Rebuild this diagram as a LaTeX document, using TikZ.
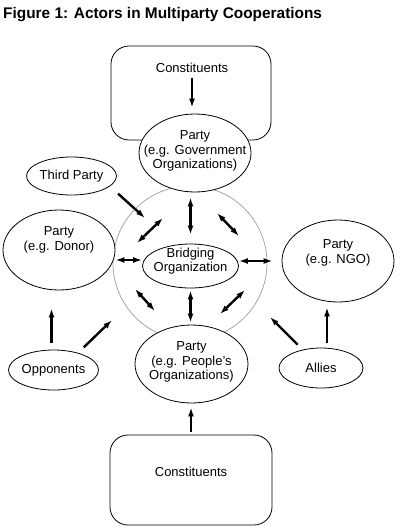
\documentclass[tikz,border=0pt]{standalone}
\usepackage{fontspec}
\setmainfont{Liberation Sans}
\usetikzlibrary{shapes.geometric,arrows.meta}
\begin{document}
\begin{tikzpicture}[x=1pt,y=-1pt,line join=round,>={Latex[length=9pt,width=6pt]},
  actor/.style={draw,ellipse,fill=white,line width=0.8pt,inner sep=0pt,
    font=\fontsize{13}{14.5}\selectfont},
  every label/.style={align=center,font=\fontsize{13}{14.5}\selectfont,inner sep=0pt},
  box/.style={draw,rounded corners=18pt,line width=0.8pt,inner sep=0pt},
  txt/.style={font=\fontsize{13}{14.5}\selectfont},
  flow/.style={line width=2.4pt}]
\useasboundingbox (0,0) rectangle (420,528);
\node[anchor=base west,inner sep=0pt,font=\bfseries\fontsize{15.4}{18}\selectfont] (title) at (3,18)
  {Figure 1: Actors in Multiparty Cooperations};

\node[box,minimum width=160pt,minimum height=94pt] (topbox) at (191,93) {};
\node[txt] (topcons) at (192,68) {Constituents};
\node[box,minimum width=162pt,minimum height=90pt] (botbox) at (191,480) {};
\node[txt] (botcons) at (191,472) {Constituents};

\node[draw=gray!70,line width=0.8pt,circle,minimum size=154pt] (ring) at (190,263) {};

\node[actor,minimum width=112pt,minimum height=78pt,
  label={[yshift=2pt]center:Party\\(e.g. Government\\Organizations)}] (gov) at (195,153) {};
\node[actor,minimum width=96pt,minimum height=44pt,
  label={[yshift=5pt]center:Bridging\\Organization}] (bridge) at (190.5,266) {};
\node[actor,minimum width=112pt,minimum height=80pt,
  label={[yshift=10pt]center:Party\\(e.g. Donor)}] (donor) at (59,250) {};
\node[actor,minimum width=112pt,minimum height=82pt,
  label={[yshift=8pt]center:Party\\(e.g. NGO)}] (ngo) at (338,261) {};
\node[actor,minimum width=113pt,minimum height=78pt,
  label={[yshift=2pt]center:Party\\(e.g. People's\\Organizations)}] (people) at (191.5,364) {};
\node[actor,minimum width=83pt,minimum height=38pt] (third) at (71.5,176) {Third Party};
\node[actor,minimum width=83pt,minimum height=40pt] (opp) at (53.5,370) {Opponents};
\node[actor,minimum width=84pt,minimum height=40pt] (allies) at (321,368) {Allies};

\coordinate (thirdEnd) at (145,218);
\coordinate (oppEnd) at (112,320);
\coordinate (alliesEnd) at (270,317);
\coordinate (ulA) at (163,218);
\coordinate (ulB) at (137,243);
\coordinate (urA) at (217,213);
\coordinate (urB) at (239,236);
\coordinate (llA) at (135,289);
\coordinate (llB) at (155,311);
\coordinate (lrA) at (220,314);
\coordinate (lrB) at (245,290);

\draw[flow,->,shorten <=2pt,shorten >=6pt] (topcons.south) -- (topcons.south |- gov.north);
\draw[flow,<->,shorten <=5pt,shorten >=9pt] (bridge.north |- gov.south) -- (bridge.north);
\draw[flow,<->] ([yshift=6pt]bridge.west) -- ([yshift=6pt]bridge.west -| donor.east);
\draw[flow,<->,shorten >=9pt] ([yshift=5pt]bridge.east) -- (ngo.west);
\draw[flow,<->,shorten <=2pt,shorten >=2pt] (bridge.south) -- (bridge.south |- people.north);
\draw[flow,->,shorten <=3pt,shorten >=4pt] (botbox.north) -- (botbox.north |- people.south);
\draw[flow,->,shorten <=7pt,shorten >=18pt] ([xshift=-2pt]opp.north) -- ([xshift=-2pt]opp.north |- donor.south);
\draw[flow,->,shorten <=5pt,shorten >=5pt] ([xshift=6pt]allies.north) -- ([xshift=6pt]allies.north |- ngo.south);
\draw[flow,->,shorten <=11pt] (third.-15) -- (thirdEnd);
\draw[flow,->,shorten <=8pt] (opp.35) -- (oppEnd);
\draw[flow,->,shorten <=7pt] (allies.135) -- (alliesEnd);
\draw[flow,<->] (ulA) -- (ulB);
\draw[flow,<->] (urA) -- (urB);
\draw[flow,<->] (llA) -- (llB);
\draw[flow,<->] (lrA) -- (lrB);
\end{tikzpicture}
\end{document}
